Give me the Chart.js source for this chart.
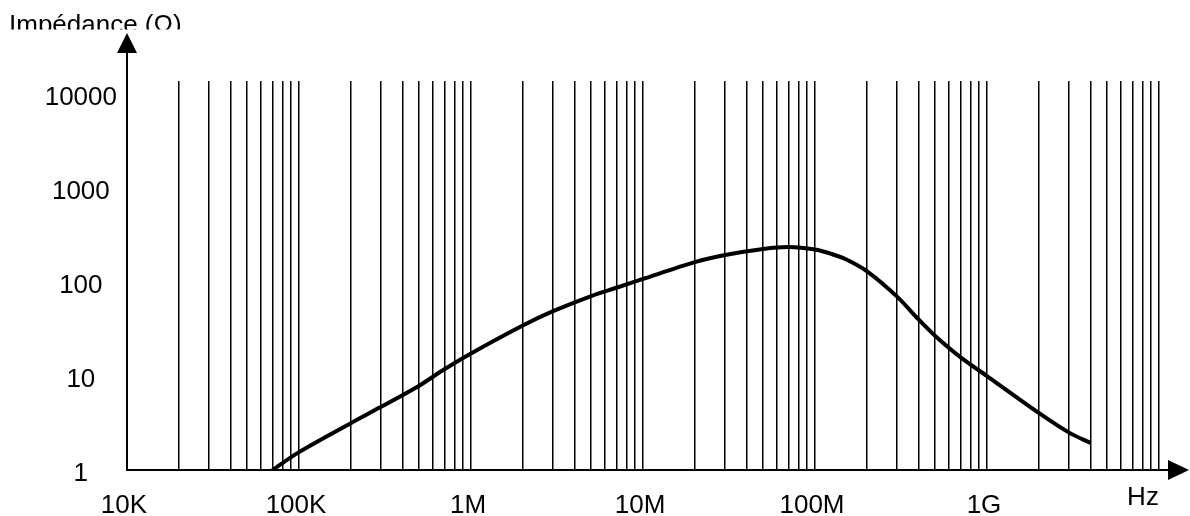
<!DOCTYPE html>
<html lang="fr">
<head>
<meta charset="UTF-8">
<title>Impédance en fonction de la fréquence</title>
<script src="https://cdn.jsdelivr.net/npm/chart.js"></script>
<style>
  body { margin: 0; background: #fff; }
  canvas { display: block; }
</style>
</head>
<body>
<canvas id="myChart" width="1190" height="516"></canvas>
<script>
// frequencies (Hz) and impedance (ohms)
const freqs = [70e3, 1e5, 2e5, 3e5, 5e5, 7e5, 1e6, 2e6, 3e6, 5e6, 7e6, 1e7, 2e7, 3e7, 5e7, 7e7,
               1e8, 1.25e8, 1.5e8, 2e8, 3e8, 4e8, 5e8, 7e8, 1e9, 2e9, 3e9, 4e9];
const impedance = [1.0, 1.55, 3.15, 4.7, 7.9, 11.8, 17.4, 34.5, 49, 71, 87, 108, 163, 194, 225, 236,
                   222, 199, 176, 131, 70, 40, 26.7, 15.9, 10, 4.05, 2.5, 1.94];

// axis ticks
const xDecades = [1e4, 1e5, 1e6, 1e7, 1e8, 1e9, 1e10];
const xDecadeLabels = ['10K', '100K', '1M', '10M', '100M', '1G', ''];
const yTicks = [1, 10, 100, 1000, 10000];
const yTickLabels = ['1', '10', '100', '1000', '10000'];

const FONT = "'Liberation Sans', Arial, sans-serif";

// every 1..9 x 10^n line of the log paper
const xGrid = [];
for (let d = 0; d < xDecades.length - 1; d++) {
  for (let m = 1; m <= 9; m++) xGrid.push(xDecades[d] * m);
}
xGrid.push(xDecades[xDecades.length - 1]);

const axesPlugin = {
  id: 'axesArrows',
  afterDraw(chart) {
    const ctx = chart.ctx;
    const area = chart.chartArea;
    const x0 = area.left, y0 = area.bottom;
    ctx.save();
    ctx.strokeStyle = '#000';
    ctx.fillStyle = '#000';
    ctx.lineWidth = 2;
    // y axis
    ctx.beginPath();
    ctx.moveTo(x0, y0 + 1);
    ctx.lineTo(x0, 50);
    ctx.stroke();
    ctx.beginPath();
    ctx.moveTo(x0, 33);
    ctx.lineTo(x0 - 10, 53);
    ctx.lineTo(x0 + 10, 53);
    ctx.closePath();
    ctx.fill();
    // x axis
    ctx.beginPath();
    ctx.moveTo(x0 - 1, y0);
    ctx.lineTo(1170, y0);
    ctx.stroke();
    ctx.beginPath();
    ctx.moveTo(1189, y0);
    ctx.lineTo(1168, y0 - 10);
    ctx.lineTo(1168, y0 + 10);
    ctx.closePath();
    ctx.fill();

    ctx.font = '26px ' + FONT;
    ctx.textAlign = 'center';
    ctx.textBaseline = 'alphabetic';
    ctx.fillText('Hz', 1143, 505);

    // axis title, cut off at the bottom like the original
    ctx.beginPath();
    ctx.rect(0, 0, 400, 29.5);
    ctx.clip();
    ctx.textAlign = 'left';
    ctx.fillText('Impédance (Ω)', 9, 33);
    ctx.restore();
  }
};

const ctx = document.getElementById('myChart').getContext('2d');
new Chart(ctx, {
  type: 'line',
  data: {
    datasets: [{
      data: freqs.map((f, i) => ({ x: f, y: impedance[i] })),
      borderColor: '#000',
      borderWidth: 4,
      pointRadius: 0,
      tension: 0.3,
      fill: false
    }]
  },
  options: {
    responsive: false,
    animation: false,
    layout: { padding: { top: 81, right: 31, left: 0, bottom: 0 } },
    plugins: { legend: { display: false }, tooltip: { enabled: false } },
    scales: {
      x: {
        type: 'logarithmic',
        min: 1e4,
        max: 1e10,
        afterBuildTicks: (scale) => { scale.ticks = xGrid.map(v => ({ value: v })); },
        afterFit: (scale) => { scale.height = 46; },
        border: { display: false },
        grid: { color: '#000', lineWidth: 1.5, drawTicks: false },
        ticks: {
          autoSkip: false,
          maxRotation: 0,
          padding: 20,
          labelOffset: -3,
          color: '#000',
          font: { family: FONT, size: 26 },
          callback: (value) => {
            const i = xDecades.indexOf(value);
            return i >= 0 ? xDecadeLabels[i] : '';
          }
        }
      },
      y: {
        type: 'logarithmic',
        min: 1,
        max: 13800,
        afterBuildTicks: (scale) => { scale.ticks = yTicks.map(v => ({ value: v })); },
        afterFit: (scale) => { scale.width = 127; },
        border: { display: false },
        grid: { display: false, drawTicks: false },
        ticks: {
          crossAlign: 'center',
          padding: 10,
          labelOffset: 4,
          color: '#000',
          font: { family: FONT, size: 26 },
          callback: (value) => {
            const i = yTicks.indexOf(value);
            return i >= 0 ? yTickLabels[i] : '';
          }
        }
      }
    }
  },
  plugins: [axesPlugin]
});
</script>
</body>
</html>
